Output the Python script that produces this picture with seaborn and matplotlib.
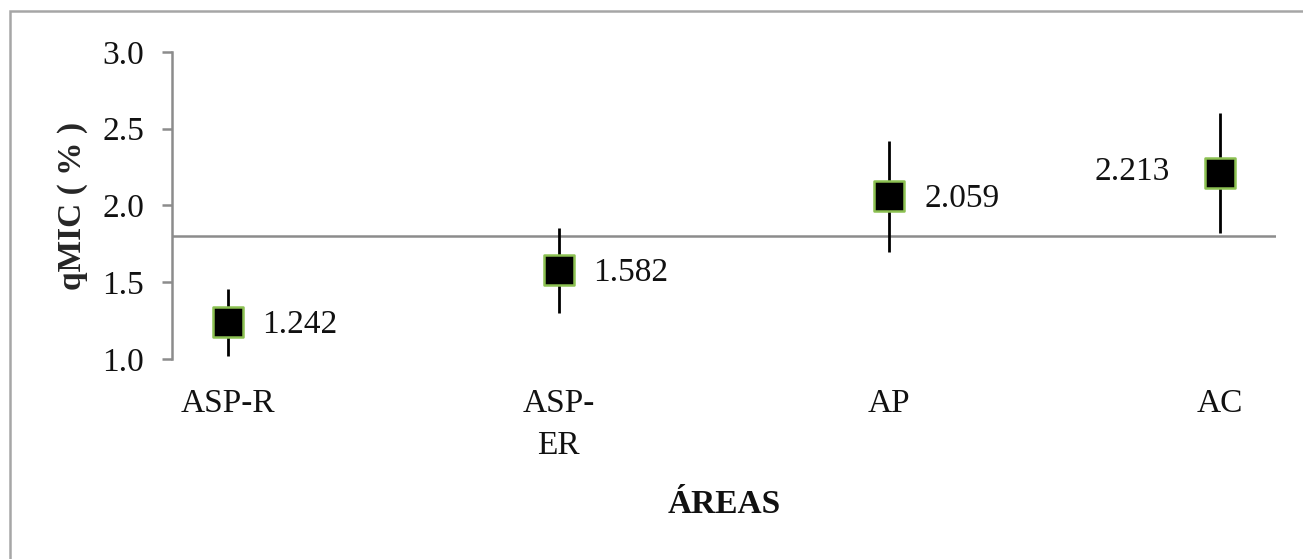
import matplotlib
matplotlib.use("Agg")
import matplotlib.pyplot as plt
import seaborn as sns
import pandas as pd
import numpy as np
from matplotlib.patches import Rectangle

areas = ["ASP-R", "ASP-ER", "AP", "AC"]
tick_labels = ["ASP-R", "ASP-\nER", "AP", "AC"]
qmic = [1.242, 1.582, 2.059, 2.213]
err_low = [0.22, 0.28, 0.36, 0.39]
err_high = [0.215, 0.27, 0.36, 0.39]
reference_line = 1.8

df = pd.DataFrame({"area": areas, "qmic": qmic})

sns.set_theme(style="white")
plt.rcParams["font.family"] = ["Liberation Serif", "DejaVu Serif"]

FS = 24

fig = plt.figure(figsize=(13.03, 5.59), dpi=100)
ax = fig.add_axes([172/1303, 1-359/559, (1276-172)/1303, (359-52)/559])

xpos = np.arange(len(areas))
ax.errorbar(xpos, qmic, yerr=[err_low, err_high], fmt="none",
            ecolor="black", elinewidth=2.0, capsize=0, zorder=2)
sns.scatterplot(data=df, x=xpos, y="qmic", marker="s", s=22**2,
                color="black", edgecolor="#8cc152", linewidth=1.8,
                ax=ax, zorder=3, legend=False)

ax.axhline(reference_line, color="#8c8c8c", lw=1.8, zorder=1)

for i, v in enumerate(qmic):
    if i == len(qmic) - 1:
        ax.annotate(f"{v:.3f}", (i, v), xytext=(-36, 1), textcoords="offset points",
                    ha="right", va="center", fontsize=FS, color="#111111")
    else:
        ax.annotate(f"{v:.3f}", (i, v), xytext=(25, -2), textcoords="offset points",
                    ha="left", va="center", fontsize=FS, color="#111111")

ax.set_xlim(-0.169, 3.169)
ax.set_ylim(1.0, 3.0)
ax.set_yticks([1.0, 1.5, 2.0, 2.5, 3.0])
ax.set_yticklabels(["1.0", "1.5", "2.0", "2.5", "3.0"], fontsize=FS)
ax.set_xticks(xpos)
ax.set_xticklabels(tick_labels, fontsize=FS, linespacing=1.5, va="top")

for s in ["top", "right", "bottom"]:
    ax.spines[s].set_visible(False)
ax.spines["left"].set_color("#8c8c8c")
ax.spines["left"].set_linewidth(1.8)
ax.tick_params(axis="y", direction="out", length=7, width=1.8, color="#8c8c8c",
               pad=13, left=True, labelcolor="#111111")
ax.tick_params(axis="x", length=0, pad=21, labelcolor="#111111")

ax.set_ylabel("qMIC ( % )", fontsize=FS, fontweight="bold")
ax.yaxis.set_label_coords((88-172)/1104, 0.5)
ax.set_xlabel("")
fig.text(0.5*(172+1276)/1303, 1-513/559, "ÁREAS", fontsize=FS, fontweight="bold",
         ha="center", va="baseline", color="#111111")

fig.patches.append(Rectangle((10/1303, -0.1), 1.2, 1-11/559+0.1,
                             transform=fig.transFigure, fill=False,
                             edgecolor="#a6a6a6", lw=1.8))

fig.savefig("out.png", dpi=100)
